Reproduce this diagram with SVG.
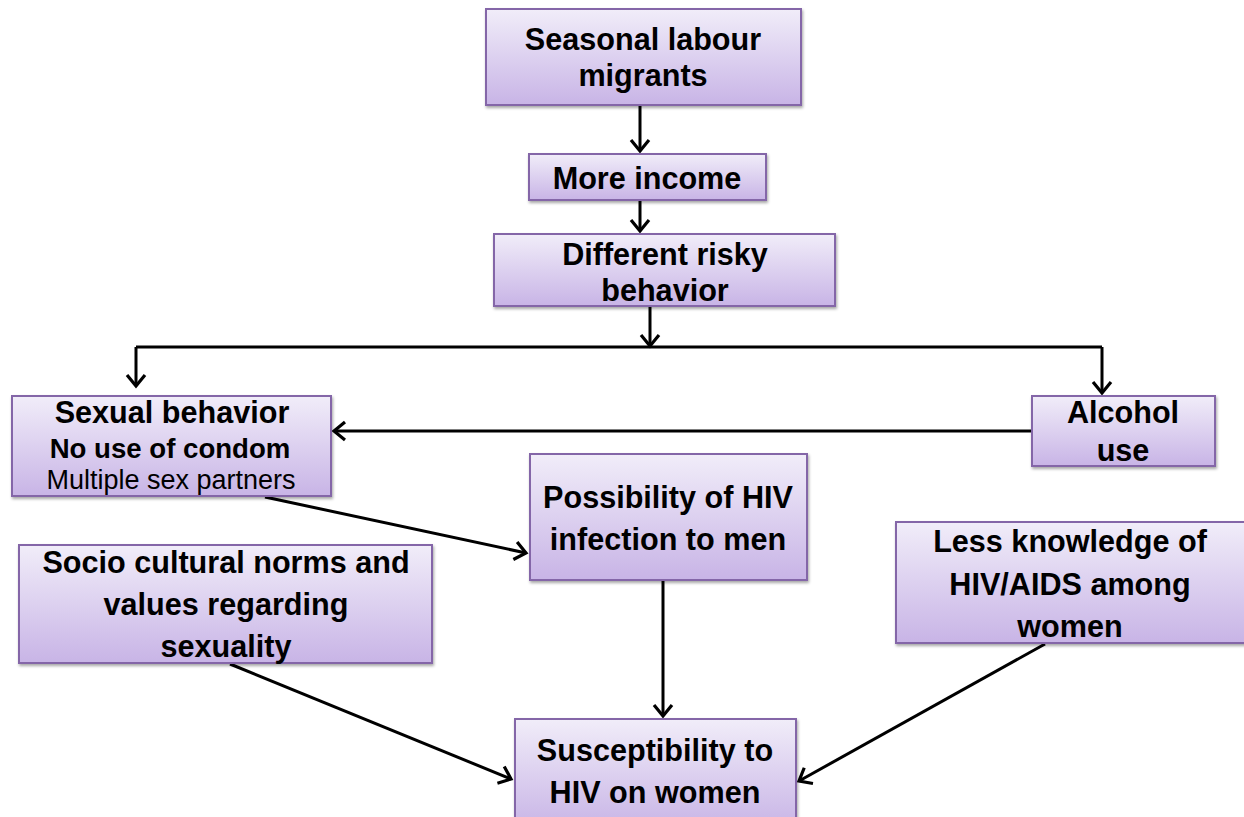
<svg xmlns="http://www.w3.org/2000/svg" width="1244" height="817" viewBox="0 0 1244 817">
<style>
.box{fill:url(#g);stroke:#8466A8;stroke-width:2;filter:url(#sh)}
.t{font-family:"Liberation Sans",Arial,sans-serif;font-weight:bold;font-size:30.6px;fill:#000;text-anchor:middle}
.r{font-weight:normal;font-size:27px}
.c{fill:none;stroke:#000;stroke-width:3;marker-end:url(#ah)}
.l{fill:none;stroke:#000;stroke-width:3}
</style>
<defs>
<linearGradient id="g" x1="0" y1="0" x2="0" y2="1">
<stop offset="0" stop-color="#F1EDF9"/>
<stop offset="1" stop-color="#C8B4E6"/>
</linearGradient>
<filter id="sh" x="-10%" y="-10%" width="120%" height="130%">
<feDropShadow dx="1" dy="2" stdDeviation="1.5" flood-color="#000" flood-opacity="0.35"/>
</filter>
<marker id="ah" markerUnits="userSpaceOnUse" markerWidth="24" markerHeight="24" refX="13" refY="10" orient="auto" viewBox="0 0 24 20">
<path d="M2,1 L13,10 L2,19" fill="none" stroke="#000" stroke-width="3.2" stroke-linejoin="miter"/>
</marker>
</defs>
<g id="connectors">
<line class="c" x1="640" y1="106" x2="640" y2="151"/>
<line class="c" x1="640" y1="201" x2="640" y2="231"/>
<line class="c" x1="650" y1="307" x2="650" y2="346"/>
<polyline class="l" points="136,347 1102,347"/>
<line class="c" x1="136" y1="347" x2="136" y2="386"/>
<line class="c" x1="1102" y1="347" x2="1102" y2="393"/>
<line class="c" x1="1031" y1="431" x2="334" y2="431"/>
<line class="c" x1="265" y1="497" x2="526" y2="553"/>
<line class="c" x1="663" y1="581" x2="663" y2="716"/>
<line class="c" x1="230" y1="664" x2="511" y2="779"/>
<line class="c" x1="1045" y1="644" x2="799" y2="781"/>
</g>
<g id="n1"><rect class="box" x="486" y="9" width="315" height="96"/>
<text class="t" x="643" y="50">Seasonal labour</text><text class="t" x="643" y="86">migrants</text></g>
<g id="n2"><rect class="box" x="529" y="154" width="237" height="46"/>
<text class="t" x="647" y="189">More income</text></g>
<g id="n3"><rect class="box" x="494" y="234" width="341" height="72"/>
<text class="t" x="665" y="265">Different risky</text><text class="t" x="665" y="301">behavior</text></g>
<g id="n4"><rect class="box" x="12" y="396" width="319" height="100"/>
<text class="t" x="172" y="423">Sexual behavior</text><text class="t" x="170" y="458" style="font-size:27.6px">No use of condom</text><text class="t r" x="171" y="489">Multiple sex partners</text></g>
<g id="n5"><rect class="box" x="1032" y="396" width="183" height="70"/>
<text class="t" x="1123" y="423">Alcohol</text><text class="t" x="1123" y="461">use</text></g>
<g id="n6"><rect class="box" x="530" y="454" width="277" height="126"/>
<text class="t" x="668" y="508">Possibility of HIV</text><text class="t" x="668" y="550">infection to men</text></g>
<g id="n7"><rect class="box" x="19" y="545" width="413" height="118"/>
<text class="t" x="226" y="573">Socio cultural norms and</text><text class="t" x="226" y="615">values regarding</text><text class="t" x="226" y="657">sexuality</text></g>
<g id="n8"><rect class="box" x="896" y="522" width="360" height="121"/>
<text class="t" x="1070" y="552">Less knowledge of</text><text class="t" x="1070" y="595">HIV/AIDS among</text><text class="t" x="1070" y="637">women</text></g>
<g id="n9"><rect class="box" x="515" y="719" width="281" height="110"/>
<text class="t" x="655" y="761">Susceptibility to</text><text class="t" x="655" y="803">HIV on women</text></g>
</svg>
